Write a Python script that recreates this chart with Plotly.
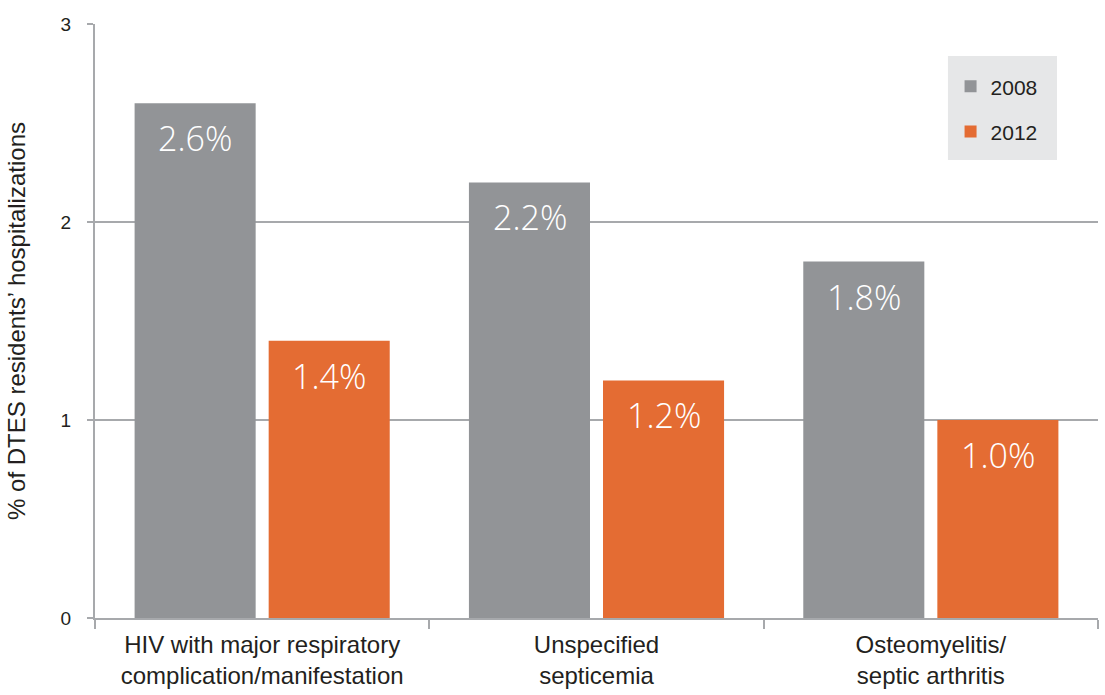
import plotly.graph_objects as go

# Share of DTES residents' hospitalizations by condition
categories = [
    "HIV with major respiratory<br>complication/manifestation",
    "Unspecified<br>septicemia",
    "Osteomyelitis/<br>septic arthritis",
]
years = ["2008", "2012"]
values_2008 = [2.6, 2.2, 1.8]
values_2012 = [1.4, 1.2, 1.0]

colors = {"2008": "#929497", "2012": "#E46C33"}
series = {"2008": values_2008, "2012": values_2012}

fig = go.Figure()
for yr in years:
    fig.add_trace(go.Bar(
        x=categories,
        y=series[yr],
        name=yr,
        marker=dict(color=colors[yr], line=dict(width=0)),
        legendgroup=yr,
        hoverinfo="skip",
    ))

# Value labels inside the top of each bar
shift = {"2008": -67, "2012": 67}
for yr in years:
    for cat, v in zip(categories, series[yr]):
        fig.add_annotation(
            x=cat, y=v, text=f"{v:.1f}%",
            xref="x", yref="y",
            xshift=shift[yr], yshift=-35,
            showarrow=False,
            font=dict(family="Open Sans", size=34, color="white", weight=300),
        )

# Legend background panel
fig.add_shape(
    type="rect", xref="paper", yref="paper",
    x0=0.8504, x1=0.9591, y0=0.7710, y1=0.9461,
    fillcolor="#E6E7E8", line=dict(width=0), layer="below",
)

grid_col = "#A7A9AC"
text_col = "#231F20"
fig.update_layout(
    width=1105, height=695,
    margin=dict(l=95, r=7, t=24, b=77),
    paper_bgcolor="white",
    plot_bgcolor="white",
    barmode="group",
    bargap=0.198,
    bargroupgap=0.097,
    font=dict(family="Liberation Sans", color=text_col),
    legend=dict(
        x=0.853, y=0.929, xanchor="left", yanchor="top",
        bgcolor="rgba(0,0,0,0)",
        font=dict(size=21, color=text_col),
        traceorder="grouped",
        tracegroupgap=15,
        borderwidth=0,
        itemwidth=30,
    ),
    xaxis=dict(
        showline=True, linecolor=grid_col, linewidth=2,
        ticks="outside", tickson="boundaries", ticklen=9, tickcolor=grid_col, tickwidth=2,
        tickfont=dict(size=24, color=text_col),
        ticklabelstandoff=4,
        showgrid=False,
    ),
    yaxis=dict(
        range=[0, 3], dtick=1,
        showline=True, linecolor=grid_col, linewidth=2,
        showgrid=True, gridcolor=grid_col, gridwidth=2,
        zeroline=False,
        ticks="outside", ticklen=6, tickcolor=grid_col, tickwidth=2,
        tickfont=dict(size=19, color=text_col),
        ticklabelstandoff=12,
        title=dict(text="% of DTES residents’ hospitalizations",
                   font=dict(size=24, color=text_col), standoff=28),
    ),
)

fig.write_html("out.html")
